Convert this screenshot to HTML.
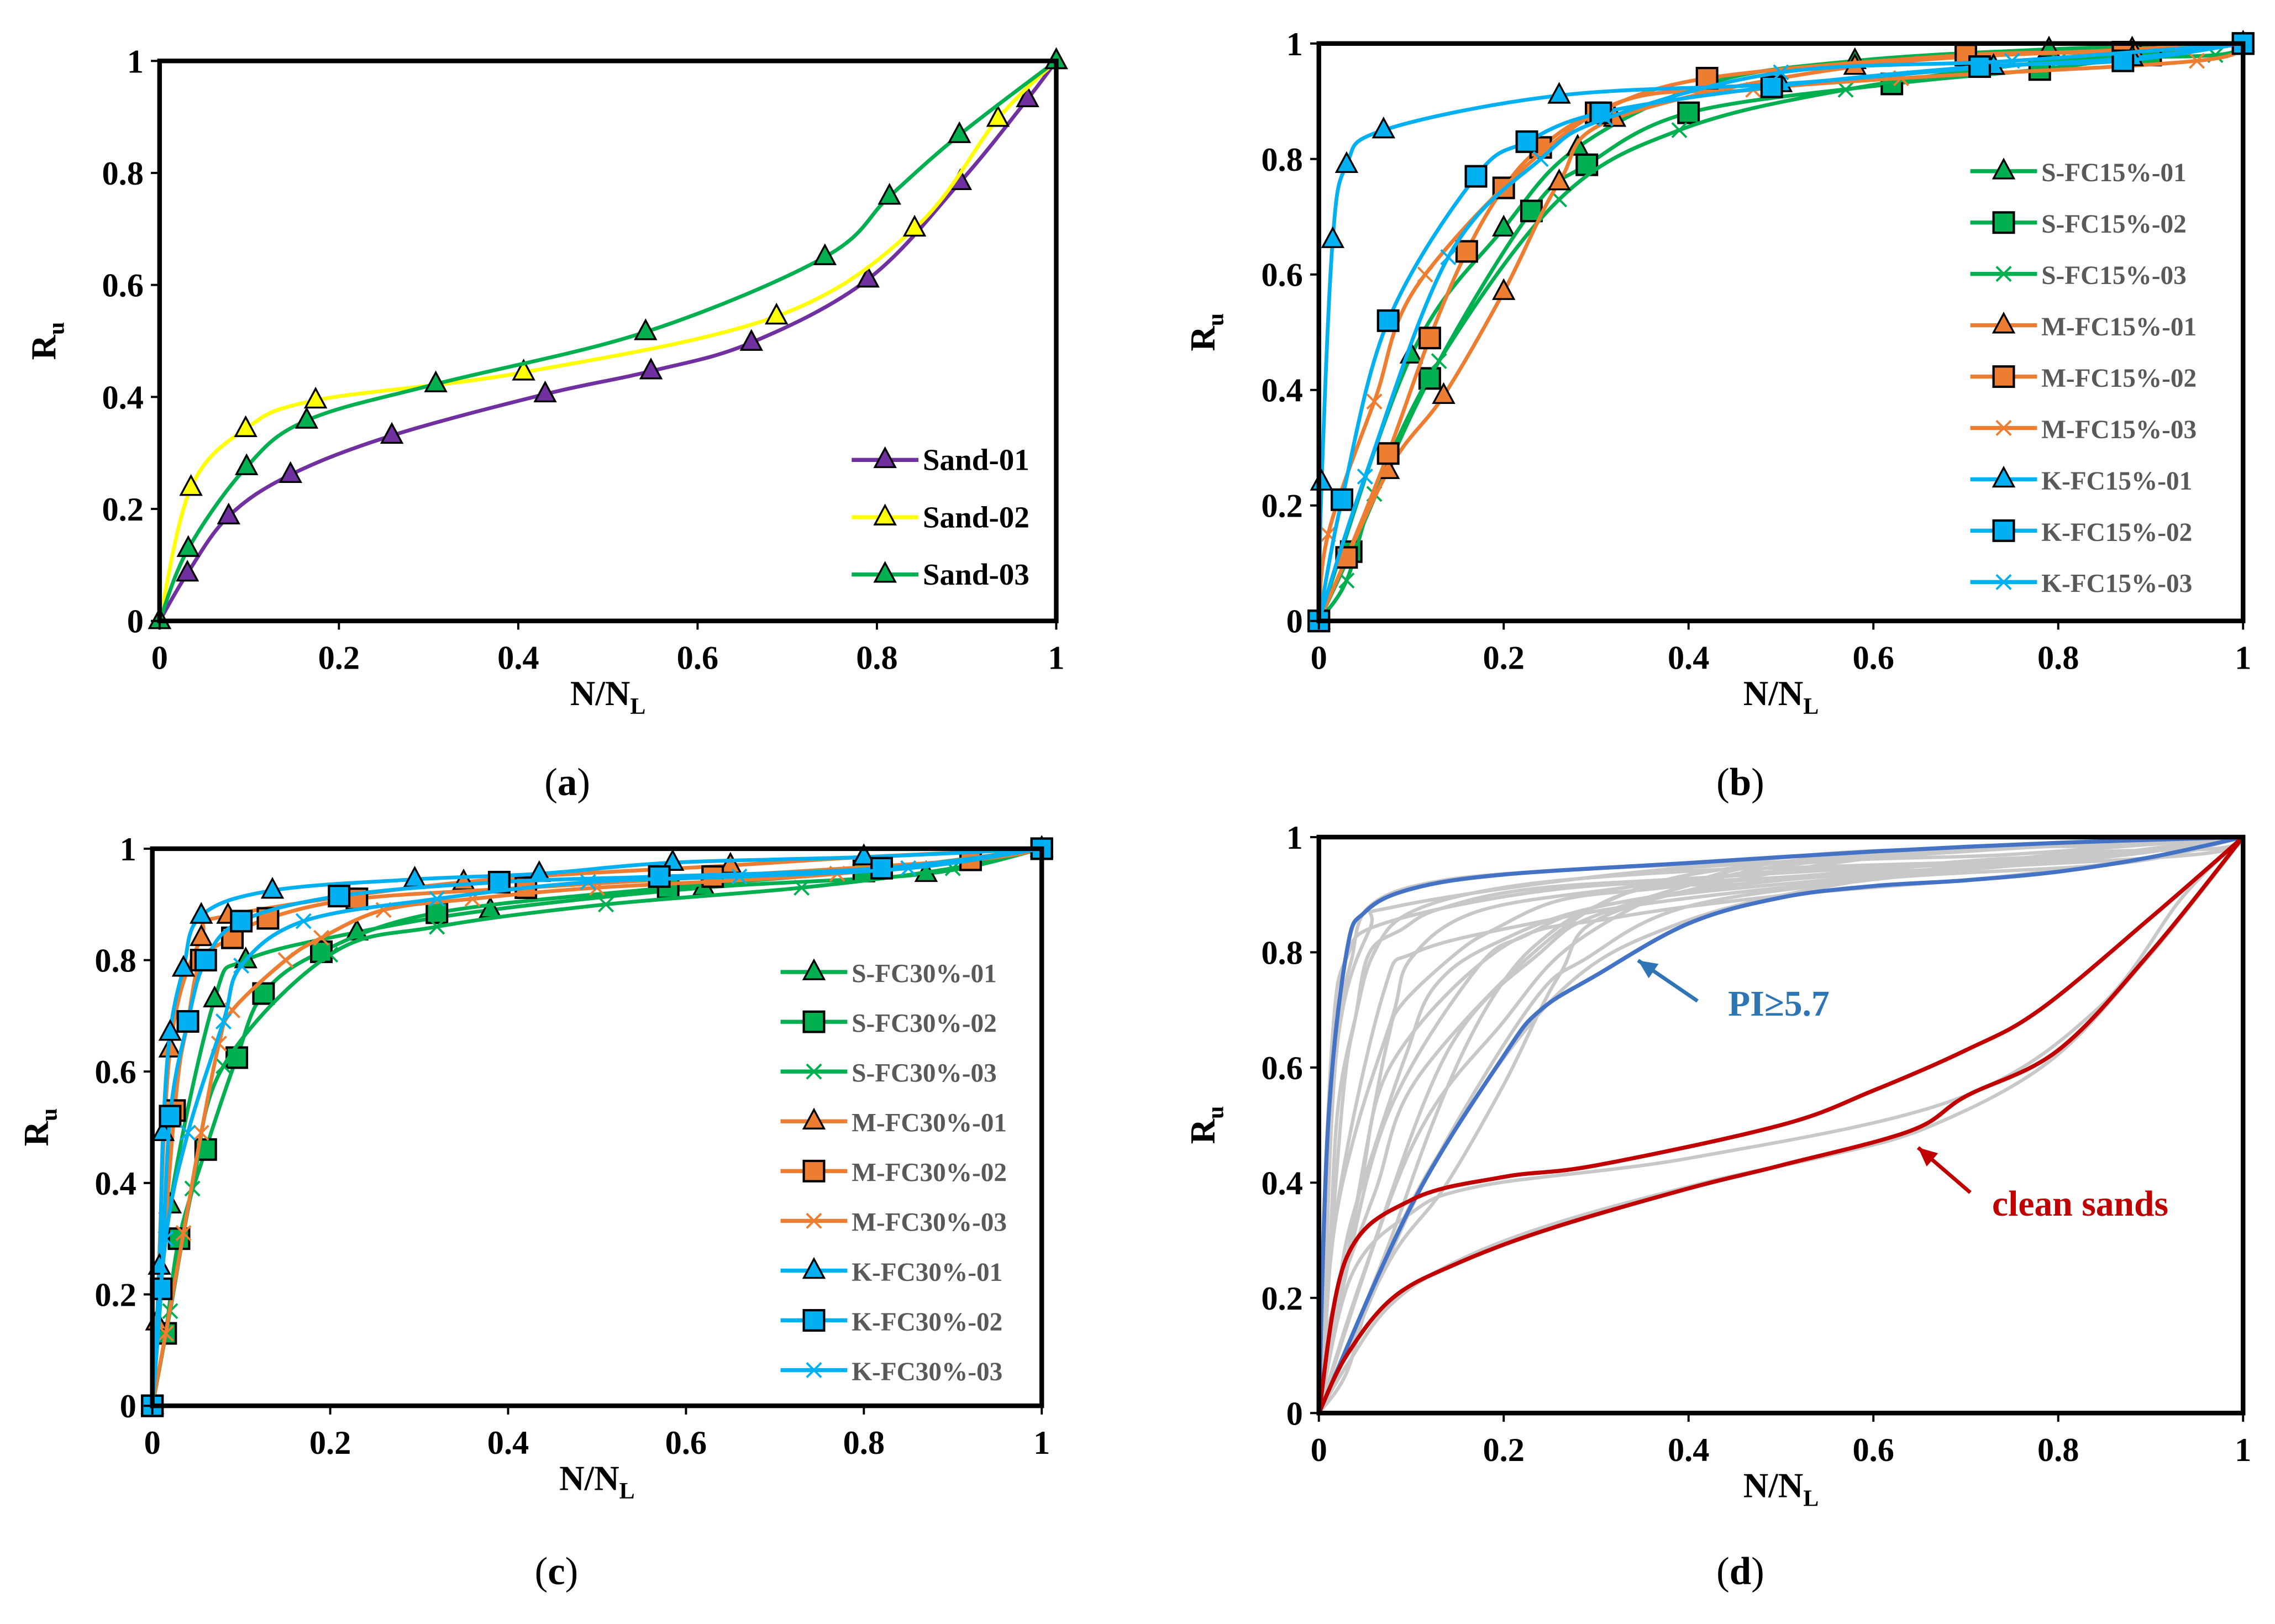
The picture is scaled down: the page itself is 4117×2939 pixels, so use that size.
<!DOCTYPE html>
<html><head><meta charset="utf-8">
<style>
html,body{margin:0;padding:0;background:#fff;}
svg{display:block;}
text{font-family:"Liberation Serif",serif;}
</style></head>
<body>
<svg id="fig" width="4117" height="2939" viewBox="0 0 1568 1119.4" preserveAspectRatio="none" xmlns="http://www.w3.org/2000/svg"></svg>
<script>
// ---------- Panel (a) data ----------
const aSand01X=[0,0.031,0.077,0.146,0.259,0.43,0.548,0.66,0.79,0.893,0.968,1];
const aSand01Y=[0,0.085,0.187,0.261,0.331,0.405,0.446,0.497,0.61,0.784,0.932,1];
const aSand02X=[0,0.035,0.096,0.174,0.406,0.688,0.842,0.935,1];
const aSand02Y=[0,0.238,0.343,0.394,0.444,0.544,0.701,0.897,1];
const aSand03X=[0,0.032,0.097,0.164,0.308,0.542,0.742,0.814,0.892,1];
const aSand03Y=[0,0.129,0.275,0.358,0.423,0.516,0.65,0.758,0.868,1];
// ---------- Panel (b) data ----------
const bS1X=[0,0.1,0.2,0.28,0.42,0.58,0.79,1];
const bS1Y=[0,0.46,0.68,0.82,0.93,0.97,0.99,1];
const bS2X=[0,0.035,0.12,0.23,0.29,0.4,0.62,0.78,0.9,1];
const bS2Y=[0,0.12,0.42,0.71,0.79,0.88,0.93,0.955,0.98,1];
const bS3X=[0,0.03,0.06,0.13,0.26,0.39,0.57,0.8,0.97,1];
const bS3Y=[0,0.07,0.22,0.45,0.73,0.85,0.92,0.97,0.98,1];
const bM1X=[0,0.075,0.135,0.2,0.26,0.32,0.58,0.88,1];
const bM1Y=[0,0.26,0.39,0.57,0.76,0.87,0.96,0.99,1];
const bM2X=[0,0.03,0.075,0.12,0.16,0.2,0.24,0.3,0.42,0.7,0.87,1];
const bM2Y=[0,0.11,0.29,0.49,0.64,0.75,0.82,0.88,0.94,0.98,0.985,1];
const bM3X=[0,0.01,0.06,0.115,0.3,0.47,0.63,0.95,1];
const bM3Y=[0,0.15,0.38,0.6,0.88,0.92,0.94,0.97,1];
const bK1X=[0,0.003,0.015,0.03,0.07,0.26,0.5,0.73,0.88,1];
const bK1Y=[0,0.24,0.66,0.79,0.85,0.91,0.93,0.96,0.975,1];
const bK2X=[0,0.025,0.075,0.17,0.225,0.305,0.49,0.715,0.87,1];
const bK2Y=[0,0.21,0.52,0.77,0.83,0.88,0.925,0.96,0.97,1];
const bK3X=[0,0.05,0.14,0.24,0.31,0.5,0.75,1];
const bK3Y=[0,0.25,0.63,0.8,0.87,0.95,0.97,1];
// ---------- Panel (c) data ----------
const cS1X=[0,0.02,0.07,0.105,0.23,0.38,0.62,0.87,1];
const cS1Y=[0,0.36,0.73,0.8,0.85,0.89,0.93,0.955,1];
const cS2X=[0,0.015,0.03,0.06,0.095,0.125,0.19,0.32,0.58,0.8,1];
const cS2Y=[0,0.13,0.3,0.46,0.625,0.74,0.815,0.885,0.93,0.96,1];
const cS3X=[0,0.02,0.045,0.08,0.2,0.32,0.51,0.73,0.9,1];
const cS3Y=[0,0.17,0.39,0.61,0.81,0.86,0.9,0.93,0.965,1];
const cM1X=[0,0.005,0.02,0.055,0.085,0.35,0.65,0.8,1];
const cM1Y=[0,0.15,0.64,0.84,0.88,0.94,0.97,0.985,1];
const cM2X=[0,0.025,0.04,0.055,0.09,0.13,0.23,0.42,0.63,0.92,1];
const cM2Y=[0,0.53,0.69,0.8,0.84,0.875,0.91,0.93,0.95,0.98,1];
const cM3X=[0,0.015,0.035,0.055,0.075,0.09,0.15,0.19,0.26,0.36,0.5,0.77,1];
const cM3Y=[0,0.13,0.31,0.49,0.65,0.71,0.8,0.84,0.89,0.91,0.93,0.955,1];
const cK1X=[0,0.008,0.012,0.02,0.035,0.055,0.135,0.295,0.435,0.585,0.8,1];
const cK1Y=[0,0.25,0.49,0.67,0.785,0.88,0.925,0.945,0.955,0.975,0.985,1];
const cK2X=[0,0.01,0.02,0.04,0.06,0.1,0.21,0.39,0.57,0.82,1];
const cK2Y=[0,0.21,0.52,0.69,0.8,0.87,0.915,0.94,0.95,0.965,1];
const cK3X=[0,0.015,0.04,0.08,0.1,0.17,0.32,0.49,0.66,0.85,1];
const cK3Y=[0,0.3,0.49,0.69,0.79,0.87,0.91,0.94,0.95,0.965,1];
// ---------- Panel (d) envelopes ----------
const dBlueUpX=[0,0.01,0.03,0.05,0.1,0.2,0.4,0.6,0.8,1];
const dBlueUpY=[0,0.5,0.8,0.87,0.91,0.935,0.955,0.975,0.99,1];
const dBlueLoX=[0,0.1,0.2,0.24,0.3,0.4,0.5,0.6,0.7,0.8,0.9,1];
const dBlueLoY=[0,0.36,0.62,0.7,0.76,0.85,0.895,0.915,0.925,0.94,0.965,1];
const dRedUpX=[0,0.03,0.1,0.2,0.3,0.5,0.6,0.7,0.78,0.9,1];
const dRedUpY=[0,0.27,0.37,0.41,0.43,0.5,0.56,0.63,0.7,0.86,1];
const dRedLoX=[0,0.03,0.08,0.15,0.25,0.4,0.5,0.64,0.7,0.8,0.9,1];
const dRedLoY=[0,0.1,0.2,0.26,0.32,0.39,0.43,0.49,0.55,0.63,0.8,1];
const xTickLabels=["0","0.2","0.4","0.6","0.8","1"];
const yTickLabels=["0","0.2","0.4","0.6","0.8","1"];

const NS="http://www.w3.org/2000/svg";
const svg=document.getElementById('fig');
function mk(tag,attrs,parent){const e=document.createElementNS(NS,tag);for(const k in attrs)e.setAttribute(k,attrs[k]);(parent||svg).appendChild(e);return e;}
function smooth(pts){
  let d=`M${pts[0][0]},${pts[0][1]}`;
  for(let i=0;i<pts.length-1;i++){
    const p0=pts[Math.max(0,i-1)],p1=pts[i],p2=pts[i+1],p3=pts[Math.min(pts.length-1,i+2)];
    const t=0.17;
    const c1=[p1[0]+(p2[0]-p0[0])*t,p1[1]+(p2[1]-p0[1])*t];
    const c2=[p2[0]-(p3[0]-p1[0])*t,p2[1]-(p3[1]-p1[1])*t];
    d+=` C${c1[0]},${c1[1]} ${c2[0]},${c2[1]} ${p2[0]},${p2[1]}`;
  }
  return d;
}
function marker(g,type,x,y,color){
  const s=7;
  let e;
  if(type==='tri') e=mk('polygon',{points:`${x},${y-s-1} ${x-s},${y+s-2} ${x+s},${y+s-2}`,fill:color,stroke:'#000','stroke-width':1.3},g);
  else if(type==='sq') e=mk('rect',{x:x-s,y:y-s,width:2*s,height:2*s,fill:color,stroke:'#000','stroke-width':1.6},g);
  else { e=mk('path',{d:`M${x-5},${y-5}L${x+5},${y+5}M${x-5},${y+5}L${x+5},${y-5}`,stroke:color,'stroke-width':1.5,fill:'none'},g); }
  return e;
}
function panel(cfg){
  const {x0,x1,y0,y1,name}=cfg;
  const sx=v=>x0+v*(x1-x0), sy=v=>y0-v*(y0-y1);
  const g=mk('g',{});
  
  
  const plot=mk('g',{},g);
  
  
  cfg.series.forEach(s=>{
    const pts=s.x.map((v,i)=>[sx(v),sy(s.y[i])]);
    const p=mk('path',{d:smooth(pts),fill:'none',stroke:s.color,'stroke-width':s.w||2.6,'stroke-linejoin':'round'},plot);
    
    
    if(s.m){ s.x.forEach((v,i)=>{const m=marker(plot,s.m,sx(v),sy(s.y[i]),s.color);
      
      });}
  });
  const fr=mk('rect',{x:x0,y:y1,width:x1-x0,height:y0-y1,fill:'none',stroke:'#000','stroke-width':3.2},g);
  
  
  xTickLabels.forEach((t,i)=>{
    const v=i/5;
    mk('line',{x1:sx(v),x2:sx(v),y1:y0,y2:y0+6,stroke:'#000','stroke-width':1.5},g);
    const tx=mk('text',{x:sx(v),y:y0+33,'text-anchor':'middle','font-size':23,'font-weight':'bold'},g);
    tx.textContent=t;
    
    
  });
  yTickLabels.forEach((t,i)=>{
    const v=i/5;
    mk('line',{x1:x0-6,x2:x0,y1:sy(v),y2:sy(v),stroke:'#000','stroke-width':1.5},g);
    const tx=mk('text',{x:x0-11,y:sy(v)+8,'text-anchor':'end','font-size':23,'font-weight':'bold'},g);
    tx.textContent=t;
    
    
  });
  const xt=mk('text',{x:(x0+x1)/2,y:y0+58,'text-anchor':'middle','font-size':24,'font-weight':'bold'},g);
  xt.innerHTML='N/N<tspan font-size="16" dy="6">L</tspan>';
  
  
  const ymid=(y0+y1)/2, yx=x0-72;
  const yt=mk('text',{x:yx,y:ymid,'text-anchor':'middle','font-size':24,'font-weight':'bold',transform:`rotate(-90 ${yx} ${ymid})`},g);
  yt.innerHTML='R<tspan font-size="16" dy="6">u</tspan>';
  
  
  const cap=mk('text',{x:(x0+x1)/2-28,y:cfg.capY,'text-anchor':'middle','font-size':27},g);
  cap.innerHTML='(<tspan font-weight="bold">'+cfg.cap+'</tspan>)';
  
  
  if(cfg.legend){
    const L=cfg.legend;
    cfg.series.forEach((s,i)=>{
      const y=L.y+i*L.dy;
      const le=mk('g',{},g);
      
      
      mk('line',{x1:L.x,x2:L.x+46,y1:y,y2:y,stroke:s.color,'stroke-width':2.8},le);
      marker(le,s.m,L.x+23,y,s.color);
      const t=mk('text',{x:L.x+49,y:y+7,'font-size':L.fs,'font-weight':'bold',fill:L.tc},le);
      t.textContent=s.label;
    });
  }
  return {sx,sy,g};
}
const PUR='#7030a0',YEL='#ffff00',GRN='#00b050',ORG='#ed7d31',BLU='#00b0f0';
panel({name:'panel-a',x0:110,x1:728,y0:428,y1:42,cap:'a',capY:548,
  legend:{x:587,y:317,dy:39.5,fs:21,tc:'#000'},
  series:[
    {id:'sand-01',label:'Sand-01',x:aSand01X,y:aSand01Y,color:PUR,m:'tri'},
    {id:'sand-02',label:'Sand-02',x:aSand02X,y:aSand02Y,color:YEL,m:'tri'},
    {id:'sand-03',label:'Sand-03',x:aSand03X,y:aSand03Y,color:GRN,m:'tri'}]});
const bSeries=[
  {id:'s-fc15-01',label:'S-FC15%-01',x:bS1X,y:bS1Y,color:GRN,m:'tri'},
  {id:'s-fc15-02',label:'S-FC15%-02',x:bS2X,y:bS2Y,color:GRN,m:'sq'},
  {id:'s-fc15-03',label:'S-FC15%-03',x:bS3X,y:bS3Y,color:GRN,m:'x'},
  {id:'m-fc15-01',label:'M-FC15%-01',x:bM1X,y:bM1Y,color:ORG,m:'tri'},
  {id:'m-fc15-02',label:'M-FC15%-02',x:bM2X,y:bM2Y,color:ORG,m:'sq'},
  {id:'m-fc15-03',label:'M-FC15%-03',x:bM3X,y:bM3Y,color:ORG,m:'x'},
  {id:'k-fc15-01',label:'K-FC15%-01',x:bK1X,y:bK1Y,color:BLU,m:'tri'},
  {id:'k-fc15-02',label:'K-FC15%-02',x:bK2X,y:bK2Y,color:BLU,m:'sq'},
  {id:'k-fc15-03',label:'K-FC15%-03',x:bK3X,y:bK3Y,color:BLU,m:'x'}];
panel({name:'panel-b',x0:909,x1:1546,y0:428,y1:30,cap:'b',capY:548,
  legend:{x:1358,y:118,dy:35.4,fs:18,tc:'#595959'},series:bSeries});
const cSeries=[
  {id:'s-fc30-01',label:'S-FC30%-01',x:cS1X,y:cS1Y,color:GRN,m:'tri'},
  {id:'s-fc30-02',label:'S-FC30%-02',x:cS2X,y:cS2Y,color:GRN,m:'sq'},
  {id:'s-fc30-03',label:'S-FC30%-03',x:cS3X,y:cS3Y,color:GRN,m:'x'},
  {id:'m-fc30-01',label:'M-FC30%-01',x:cM1X,y:cM1Y,color:ORG,m:'tri'},
  {id:'m-fc30-02',label:'M-FC30%-02',x:cM2X,y:cM2Y,color:ORG,m:'sq'},
  {id:'m-fc30-03',label:'M-FC30%-03',x:cM3X,y:cM3Y,color:ORG,m:'x'},
  {id:'k-fc30-01',label:'K-FC30%-01',x:cK1X,y:cK1Y,color:BLU,m:'tri'},
  {id:'k-fc30-02',label:'K-FC30%-02',x:cK2X,y:cK2Y,color:BLU,m:'sq'},
  {id:'k-fc30-03',label:'K-FC30%-03',x:cK3X,y:cK3Y,color:BLU,m:'x'}];
panel({name:'panel-c',x0:105,x1:718,y0:969,y1:585,cap:'c',capY:1092,
  legend:{x:538,y:670,dy:34.3,fs:18,tc:'#595959'},series:cSeries});
const GR='#c8c8c8';
const dSeries=[];
[...bSeries,...cSeries].forEach(s=>dSeries.push({id:'grey-'+s.id,x:s.x,y:s.y,color:GR,w:2.4}));
dSeries.push({id:'grey-sand-02',x:aSand02X,y:aSand02Y,color:GR,w:2.4});
dSeries.push({id:'grey-sand-mid',x:aSand01X,y:aSand01Y.map((v,i)=>v),color:GR,w:2.4});
dSeries.push({id:'pi-upper-envelope',x:dBlueUpX,y:dBlueUpY,color:'#4472c4',w:2.8});
dSeries.push({id:'pi-lower-envelope',x:dBlueLoX,y:dBlueLoY,color:'#4472c4',w:2.8});
dSeries.push({id:'sand-upper-envelope',x:dRedUpX,y:dRedUpY,color:'#c00000',w:2.8});
dSeries.push({id:'sand-lower-envelope',x:dRedLoX,y:dRedLoY,color:'#c00000',w:2.8});
const pd=panel({name:'panel-d',x0:909,x1:1546,y0:974,y1:577,cap:'d',capY:1092,series:dSeries});
// annotations
function arrow(x1,y1,x2,y2,c,name){
  const g=mk('g',{},pd.g);
  
  
  mk('line',{x1,y1,x2,y2,stroke:c,'stroke-width':2.6},g);
  const a=Math.atan2(y2-y1,x2-x1),L=13,W=6;
  const bx=x2-L*Math.cos(a),by=y2-L*Math.sin(a);
  mk('polygon',{points:`${x2},${y2} ${bx+W*Math.sin(a)},${by-W*Math.cos(a)} ${bx-W*Math.sin(a)},${by+W*Math.cos(a)}`,fill:c},g);
}
arrow(1170,690,1129,662,'#2e75b6','pi-arrow');
arrow(1358,822,1322,791,'#c00000','clean-sands-arrow');
const t1=mk('text',{x:1191,y:700,'font-size':25,'font-weight':'bold',fill:'#2e75b6'},pd.g);
t1.textContent='PI≥5.7';


const t2=mk('text',{x:1373,y:838,'font-size':25,'font-weight':'bold',fill:'#c00000'},pd.g);
t2.textContent='clean sands';


</script>
</body></html>
